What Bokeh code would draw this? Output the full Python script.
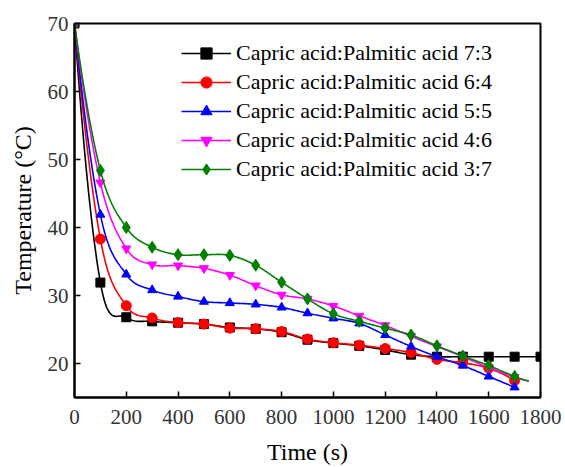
import numpy as np
from bokeh.plotting import figure
from bokeh.models import Range1d, FixedTicker, Legend, LegendItem
from bokeh.embed import file_html
from bokeh.resources import INLINE

# ---- data ----
time = [0, 100, 200, 300, 400, 500, 600, 700, 800, 900, 1000, 1100, 1200, 1300, 1400, 1500, 1600, 1700, 1800]
black = [70, 31.9, 26.8, 26.2, 26.0, 25.8, 25.3, 25.1, 24.6, 23.5, 23.0, 22.6, 22.0, 21.3, 21.0, 21.0, 21.0, 21.0, 21.0]
red = [70, 38.3, 28.5, 26.7, 26.0, 25.8, 25.2, 25.1, 24.7, 23.6, 23.05, 22.7, 22.2, 21.6, 20.6, 20.1, 19.3, 17.5]
blue = [70, 41.9, 33.1, 30.8, 29.85, 29.1, 28.9, 28.7, 28.25, 27.4, 26.65, 25.9, 24.2, 22.5, 21.0, 19.7, 18.1, 16.5]
magenta = [70, 46.6, 36.9, 34.55, 34.4, 34.0, 33.0, 31.45, 30.1, 29.5, 28.45, 27.0, 25.6, 24.0, 22.5, 21.0, 19.4, 18.0]
green = [70, 48.4, 40.0, 37.1, 36.0, 36.0, 35.9, 34.45, 31.95, 29.5, 27.3, 26.2, 25.2, 24.2, 22.6, 21.1, 19.7, 18.1]
line_end_time = 1755
magenta_end = 17.4
green_end = 17.4

labels = ["Capric acid:Palmitic acid 7:3", "Capric acid:Palmitic acid 6:4",
          "Capric acid:Palmitic acid 5:5", "Capric acid:Palmitic acid 4:6",
          "Capric acid:Palmitic acid 3:7"]
x_ticks = [0, 200, 400, 600, 800, 1000, 1200, 1400, 1600, 1800]
y_ticks = [20, 30, 40, 50, 60, 70]


def smooth(xs, ys, n=20):
    """Cubic Hermite curve through the data points (smoothed line rendering)."""
    x = np.asarray(xs, float)
    y = np.asarray(ys, float)
    k = len(x)
    m = np.zeros(k)
    for i in range(1, k - 1):
        m[i] = (y[i + 1] - y[i - 1]) / (x[i + 1] - x[i - 1])
    h0, h1 = x[1] - x[0], x[2] - x[1]
    m[0] = ((y[1] - y[0]) / h0) * (2 * h0 + h1) / (h0 + h1) - ((y[2] - y[1]) / h1) * h0 / (h0 + h1)
    ha, hb = x[-1] - x[-2], x[-2] - x[-3]
    m[-1] = ((y[-1] - y[-2]) / ha) * (2 * ha + hb) / (ha + hb) - ((y[-2] - y[-3]) / hb) * ha / (ha + hb)
    ox, oy = [], []
    s = np.linspace(0, 1, n, endpoint=False)
    h00 = 2 * s**3 - 3 * s**2 + 1
    h10 = s**3 - 2 * s**2 + s
    h01 = -2 * s**3 + 3 * s**2
    h11 = s**3 - s**2
    for i in range(k - 1):
        h = x[i + 1] - x[i]
        ox.extend(x[i] + s * h)
        oy.extend(h00 * y[i] + h10 * h * m[i] + h01 * y[i + 1] + h11 * h * m[i + 1])
    ox.append(x[-1])
    oy.append(y[-1])
    return ox, oy


p = figure(width=565, height=467, output_backend="svg", toolbar_location=None,
           x_range=Range1d(0, 1800), y_range=Range1d(15, 70),
           min_border_left=74, min_border_right=25, min_border_top=23, min_border_bottom=67)
p.grid.visible = False
p.outline_line_color = "black"
p.outline_line_width = 2
p.background_fill_color = "white"
p.border_fill_color = "white"

FONT = "Liberation Serif"
for ax in (p.xaxis[0], p.yaxis[0]):
    ax.axis_line_width = 2
    ax.major_tick_in = 6
    ax.major_tick_out = 0
    ax.major_tick_line_width = 1.5
    ax.minor_tick_in = 0
    ax.minor_tick_out = 0
    ax.major_label_text_font = FONT
    ax.major_label_text_font_size = "21px"
    ax.major_label_text_color = "#333333"
    ax.axis_label_text_font = FONT
    ax.axis_label_text_font_size = "24px"
    ax.axis_label_text_font_style = "normal"
    ax.axis_label_text_color = "black"
p.xaxis.ticker = FixedTicker(ticks=x_ticks)
p.yaxis.ticker = FixedTicker(ticks=y_ticks)
p.xaxis.axis_label = "Time (s)"
p.yaxis.axis_label = "Temperature (°C)"
p.xaxis.major_label_standoff = 12
p.yaxis.major_label_standoff = 6
p.xaxis.axis_label_standoff = 12
p.yaxis.axis_label_standoff = 9

series = [
    (black, None, "black", "square"),
    (red, None, "red", "circle"),
    (blue, None, "blue", "triangle"),
    (magenta, magenta_end, "magenta", "inverted_triangle"),
    (green, green_end, "green", "diamond"),
]
items = []
for (vals, end, color, marker), lab in zip(series, labels):
    t = time[:len(vals)]
    lx, ly = list(t), list(vals)
    if end is not None:
        lx.append(line_end_time)
        ly.append(end)
    sx, sy = smooth(lx, ly)
    r1 = p.line(sx, sy, line_color=color, line_width=1.6)
    size = 12 if marker == "diamond" else 9
    if marker == "circle":
        size = 10
    r2 = p.scatter(t, vals, marker=marker, size=size, fill_color=color, line_color=color)
    items.append(LegendItem(label=lab, renderers=[r1, r2]))

legend = Legend(items=items, location="top_right")
legend.label_text_font = FONT
legend.label_text_font_size = "22px"
legend.label_text_color = "black"
legend.border_line_color = None
legend.background_fill_alpha = 0
legend.glyph_width = 50
legend.glyph_height = 28
legend.label_height = 28
legend.spacing = 1
legend.label_standoff = 5
legend.padding = 0
legend.margin = 0
legend.location = (107, 214)
p.add_layout(legend)

open("out.html", "w").write(file_html(p, INLINE))
